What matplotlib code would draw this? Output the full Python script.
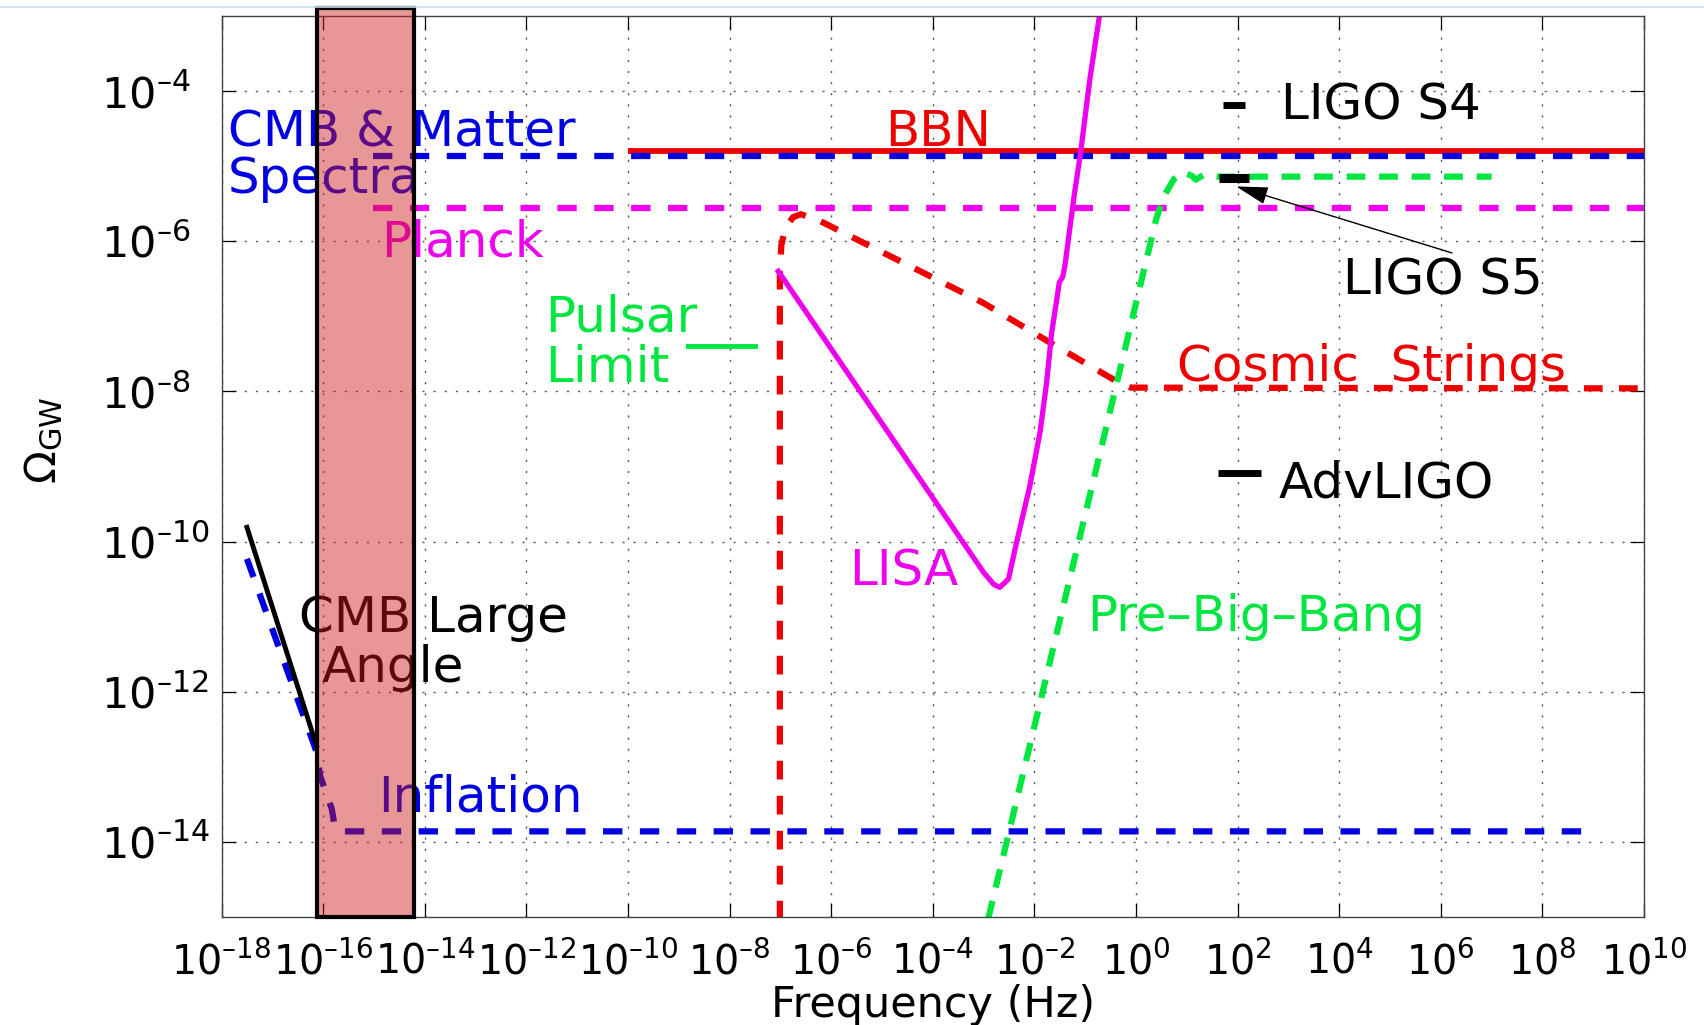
import numpy as np
import matplotlib.pyplot as plt
from matplotlib.patches import Rectangle
from matplotlib.lines import Line2D
from matplotlib.ticker import NullLocator, FuncFormatter

plt.rcParams['font.family'] = ['DejaVu Sans']
plt.rcParams['mathtext.fontset'] = 'dejavusans'

# every curve is kept as log10(frequency / Hz) and log10(Omega_GW)
bbn_f = [-10.0, 10.0]
bbn_om = [-4.80, -4.80]

cmb_matter_f = [-15.02, 10.0]
cmb_matter_om = [-4.87, -4.87]

planck_f = [-15.02, 10.0]
planck_om = [-5.56, -5.56]

cmb_large_f = [-17.50, -16.13]
cmb_large_om = [-9.81, -12.72]

inflation_f = [-17.50, -16.13, -16.06, -15.83, -15.77, -15.70, 8.80]
inflation_om = [-10.23, -12.80, -13.12, -13.56, -13.80, -13.86, -13.86]

strings_f = [-7.01, -7.01, -6.98, -6.90, -6.75, -6.60, -6.25, -5.63,
             -3.01, -1.69, -0.37, -0.10, 10.0]
strings_om = [-15.5, -6.40, -6.05, -5.82, -5.68, -5.64, -5.72, -5.93,
              -6.82, -7.35, -7.87, -7.95, -7.96]

lisa_f = [-7.04, -3.00, -2.80, -2.68, -2.51, -2.35, -2.09, -1.89, -1.76,
          -1.66, -1.56, -1.51, -1.44, -1.40, -1.21, -1.09, -0.91, -0.72]
lisa_om = [-6.40, -10.41, -10.57, -10.61, -10.50, -10.01, -9.26, -8.55,
           -7.89, -7.22, -6.78, -6.55, -6.47, -6.33, -5.36, -4.82, -3.85,
           -3.00]

pbb_f = [-3.06, -1.40, 0.016, 0.40, 0.55, 0.75, 0.94, 1.10, 1.18, 1.32,
         1.60, 7.00]
pbb_om = [-15.45, -10.77, -6.78, -5.70, -5.40, -5.17, -5.08, -5.13, -5.18,
          -5.12, -5.14, -5.14]

pulsar_f = [-8.81, -7.50]
pulsar_om = [-7.40, -7.40]

ligo_s4_f = [1.72, 2.15]
ligo_s4_om = [-4.18, -4.18]

ligo_s5_f = [1.64, 2.23]
ligo_s5_om = [-5.16, -5.16]

advligo_f = [1.62, 2.47]
advligo_om = [-9.09, -9.09]

# frequency band of the shaded CMB region
cmb_band_f = [-16.12, -14.21]

x_ticks = np.arange(-18, 11, 2)
y_ticks = np.arange(-14, -3, 2)

blue = '#0000e0'
red = '#ee0000'
magenta = '#ee00ee'
green = '#00e640'

fig = plt.figure(figsize=(17.04, 10.25), dpi=100)
ax = fig.add_axes([0.1300, 0.1054, 0.8348, 0.8790])


def curve(lf, lo, **kw):
    return ax.plot(np.power(10.0, lf), np.power(10.0, lo), **kw)


def decade_label(v, pos):
    # short dash in the exponent keeps the crowded x labels apart
    e = int(round(np.log10(v)))
    sign = '–' if e < 0 else ''
    return r'$\mathdefault{10^{%s%d}}$' % (sign, abs(e))


curve(bbn_f, bbn_om, color=red, lw=4.2, solid_capstyle='butt')
curve(cmb_matter_f, cmb_matter_om, color=blue, dashes=(3.1, 2.8), lw=4.5)
curve(planck_f, planck_om, color=magenta, dashes=(3.1, 2.8), lw=4.5)
curve(inflation_f, inflation_om, color=blue, dashes=(3.1, 2.8), lw=4.5)
curve(cmb_large_f, cmb_large_om, color='black', lw=3.5)
curve(strings_f, strings_om, color=red, dashes=(3.0, 2.6), lw=4.5)
curve(lisa_f, lisa_om, color=magenta, lw=3.8)
curve(pbb_f, pbb_om, color=green, dashes=(3.0, 2.2), lw=4.5)
curve(pulsar_f, pulsar_om, color=green, lw=3.5)
curve(ligo_s4_f, ligo_s4_om, color='black', lw=5.0, solid_capstyle='butt')
curve(ligo_s5_f, ligo_s5_om, color='black', lw=6.5, solid_capstyle='butt')
curve(advligo_f, advligo_om, color='black', lw=5.0, solid_capstyle='butt')

ax.annotate('', xy=(10**1.97, 10**-5.27), xytext=(10**6.22, 10**-6.156),
            arrowprops=dict(arrowstyle='-|>,head_length=0.8,head_width=0.22',
                            mutation_scale=25, color='black', lw=1.0,
                            shrinkA=0, shrinkB=0))

fs = 36
txt = dict(fontsize=fs, ha='left', va='baseline')
ax.text(10**-17.88, 10**-4.738, 'CMB & Matter', color=blue, **txt)
ax.text(10**-17.88, 10**-5.354, 'Spectra', color=blue, **txt)
ax.text(10**-4.94, 10**-4.738, 'BBN', color=red, **txt)
ax.text(10**-14.864, 10**-6.20, 'Planck', color=magenta, **txt)
ax.text(10**-11.626, 10**-7.198, 'Pulsar', color=green, **txt)
ax.text(10**-11.626, 10**-7.874, 'Limit', color=green, **txt)
ax.text(10**-5.65, 10**-10.59, 'LISA', color=magenta, **txt)
ax.text(10**0.809, 10**-7.863, 'Cosmic  Strings', color=red, **txt)
ax.text(10**2.85, 10**-4.383, 'LIGO S4', color='black', **txt)
ax.text(10**4.07, 10**-6.71, 'LIGO S5', color='black', **txt)
ax.text(10**2.817, 10**-9.41, 'AdvLIGO', color='black', **txt)
ax.text(10**-0.953, 10**-11.19, 'Pre–Big–Bang', color=green, **txt)
ax.text(10**-16.48, 10**-11.198, 'CMB Large', color='black', **txt)
ax.text(10**-16.03, 10**-11.874, 'Angle', color='black', **txt)
ax.text(10**-14.913, 10**-13.60, 'Inflation', color=blue, **txt)

# translucent band drawn over the curves and labels, poking above the frame
band = Rectangle((10**cmb_band_f[0], 1e-15),
                 10**cmb_band_f[1] - 10**cmb_band_f[0], 10**-2.887 - 1e-15,
                 facecolor=(0.8, 0.1, 0.1, 0.45), edgecolor='black',
                 lw=3.0, zorder=5, clip_on=False)
ax.add_patch(band)

ax.set_xscale('log')
ax.set_yscale('log')
ax.set_xlim(1e-18, 1e10)
ax.set_ylim(1e-15, 1e-3)
ax.set_xticks(10.0**x_ticks)
ax.set_yticks(10.0**y_ticks)
ax.xaxis.set_minor_locator(NullLocator())
ax.yaxis.set_minor_locator(NullLocator())
ax.xaxis.set_major_formatter(FuncFormatter(decade_label))
ax.yaxis.set_major_formatter(FuncFormatter(decade_label))

ax.grid(True, color='#555555', lw=1.0, dashes=(1.5, 6.5))
ax.set_axisbelow(True)
ax.tick_params(which='major', direction='in', length=10, width=0.9,
               top=True, right=True, colors='black')
ax.tick_params(axis='x', pad=18, labelsize=28.5)
ax.tick_params(axis='y', pad=86.5, labelsize=31)
plt.setp(ax.get_yticklabels(), ha='left')
for sp in ax.spines.values():
    sp.set_color('#444444')
    sp.set_linewidth(1.0)

ax.set_xlabel('Frequency (Hz)', fontsize=31)
ax.xaxis.set_label_coords(0.5, -0.074)
ax.set_ylabel(r'$\Omega_{\rm GW}$', fontsize=31)
ax.yaxis.set_label_coords(-0.110, 0.529)

fig.add_artist(Line2D([0, 1], [1 - 7 / 1025] * 2, transform=fig.transFigure,
                      color='#c8dcf0', lw=1.2))

fig.savefig('out.png', dpi=100)
